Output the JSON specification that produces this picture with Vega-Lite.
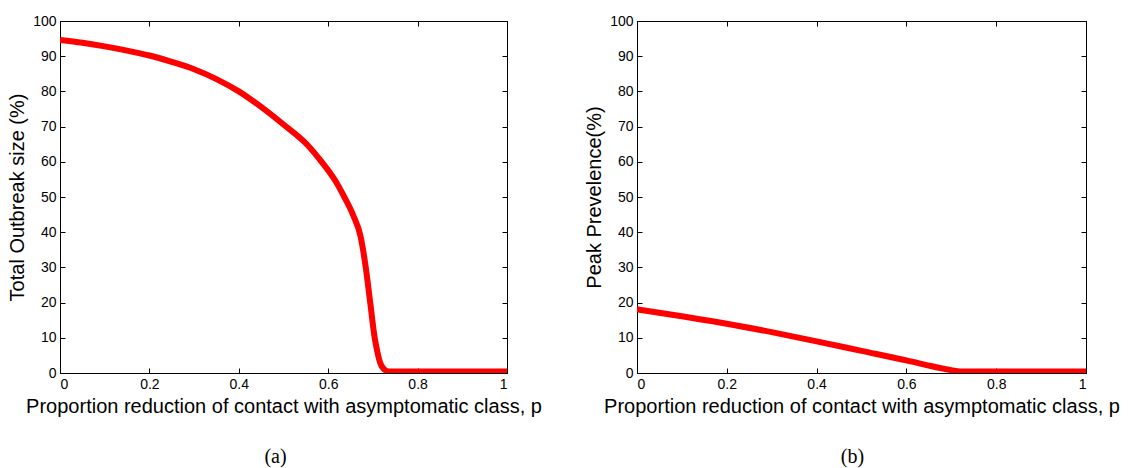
{
  "$schema": "https://vega.github.io/schema/vega-lite/v6.json",
  "padding": {"left": 7, "top": 13, "right": 0, "bottom": 0},
  "background": "white",
  "datasets": {
    "outbreak": [
      {"p": 0, "v": 94.6}, {"p": 0.05, "v": 93.8}, {"p": 0.1, "v": 92.8}, {"p": 0.15, "v": 91.6},
      {"p": 0.2, "v": 90.2}, {"p": 0.25, "v": 88.4}, {"p": 0.3, "v": 86.3}, {"p": 0.35, "v": 83.5},
      {"p": 0.4, "v": 80.0}, {"p": 0.45, "v": 75.6}, {"p": 0.5, "v": 70.6}, {"p": 0.552, "v": 65.0},
      {"p": 0.584, "v": 60.2}, {"p": 0.616, "v": 54.6}, {"p": 0.636, "v": 50}, {"p": 0.656, "v": 44.8},
      {"p": 0.672, "v": 39.0}, {"p": 0.684, "v": 30}, {"p": 0.694, "v": 20}, {"p": 0.704, "v": 10},
      {"p": 0.71, "v": 6}, {"p": 0.716, "v": 3}, {"p": 0.724, "v": 1.2}, {"p": 0.736, "v": 0.4},
      {"p": 0.8, "v": 0.4}, {"p": 0.9, "v": 0.4}, {"p": 1.0, "v": 0.4}
    ],
    "peak": [
      {"p": 0, "v": 18.1}, {"p": 0.1, "v": 16.1}, {"p": 0.2, "v": 14.0}, {"p": 0.3, "v": 11.6},
      {"p": 0.4, "v": 9.0}, {"p": 0.5, "v": 6.3}, {"p": 0.6, "v": 3.6}, {"p": 0.65, "v": 2.1},
      {"p": 0.7, "v": 0.8}, {"p": 0.72, "v": 0.4}, {"p": 0.8, "v": 0.4}, {"p": 0.9, "v": 0.4},
      {"p": 1.0, "v": 0.4}
    ]
  },
  "config": {
    "font": "Arial",
    "view": {"stroke": "black", "strokeWidth": 1},
    "axis": {
      "grid": false,
      "domainColor": "black",
      "domainWidth": 1,
      "tickColor": "black",
      "tickSize": -5,
      "labelPadding": 9,
      "labelFont": "Arial",
      "labelFontSize": 14,
      "labelColor": "black",
      "titleFont": "Arial",
      "titleFontSize": 20,
      "titleFontWeight": "normal",
      "titleColor": "black"
    },
    "title": {"font": "Times New Roman", "fontSize": 20, "fontWeight": "normal", "color": "black"}
  },
  "bounds": "flush",
  "spacing": 130,
  "hconcat": [
    {
      "width": 447,
      "height": 352,
      "title": {"text": "(a)", "orient": "bottom", "offset": 31, "dx": -8},
      "data": {"name": "outbreak"},
      "layer": [
        {
          "mark": {"type": "line", "color": "#ff0000", "strokeWidth": 6, "clip": true, "interpolate": "monotone"},
          "encoding": {
            "x": {"field": "p", "type": "quantitative", "scale": {"domain": [0, 1], "nice": false},
                  "axis": {"orient": "bottom", "values": [0, 0.2, 0.4, 0.6, 0.8, 1], "format": "~g", "title": "Proportion reduction of contact with asymptomatic class, p", "titlePadding": 5}},
            "y": {"field": "v", "type": "quantitative", "scale": {"domain": [0, 100], "nice": false},
                  "axis": {"orient": "left", "values": [0,10,20,30,40,50,60,70,80,90,100], "title": "Total Outbreak size (%)", "titlePadding": 5}}
          }
        },
        {
          "mark": {"type": "line", "opacity": 0},
          "encoding": {
            "x": {"field": "p", "type": "quantitative", "scale": {"domain": [0, 1], "nice": false},
                  "axis": {"orient": "top", "values": [0, 0.2, 0.4, 0.6, 0.8, 1], "labels": false, "title": null}},
            "y": {"field": "v", "type": "quantitative", "scale": {"domain": [0, 100], "nice": false},
                  "axis": {"orient": "right", "values": [0,10,20,30,40,50,60,70,80,90,100], "labels": false, "title": null}}
          }
        }
      ],
      "resolve": {"axis": {"x": "independent", "y": "independent"}}
    },
    {
      "width": 449,
      "height": 352,
      "title": {"text": "(b)", "orient": "bottom", "offset": 31, "dx": -9},
      "data": {"name": "peak"},
      "layer": [
        {
          "mark": {"type": "line", "color": "#ff0000", "strokeWidth": 6, "clip": true, "interpolate": "monotone"},
          "encoding": {
            "x": {"field": "p", "type": "quantitative", "scale": {"domain": [0, 1], "nice": false},
                  "axis": {"orient": "bottom", "values": [0, 0.2, 0.4, 0.6, 0.8, 1], "format": "~g", "title": "Proportion reduction of contact with asymptomatic class, p", "titlePadding": 5}},
            "y": {"field": "v", "type": "quantitative", "scale": {"domain": [0, 100], "nice": false},
                  "axis": {"orient": "left", "values": [0,10,20,30,40,50,60,70,80,90,100], "title": "Peak Prevelence(%)", "titlePadding": 5}}
          }
        },
        {
          "mark": {"type": "line", "opacity": 0},
          "encoding": {
            "x": {"field": "p", "type": "quantitative", "scale": {"domain": [0, 1], "nice": false},
                  "axis": {"orient": "top", "values": [0, 0.2, 0.4, 0.6, 0.8, 1], "labels": false, "title": null}},
            "y": {"field": "v", "type": "quantitative", "scale": {"domain": [0, 100], "nice": false},
                  "axis": {"orient": "right", "values": [0,10,20,30,40,50,60,70,80,90,100], "labels": false, "title": null}}
          }
        }
      ],
      "resolve": {"axis": {"x": "independent", "y": "independent"}}
    }
  ]
}
